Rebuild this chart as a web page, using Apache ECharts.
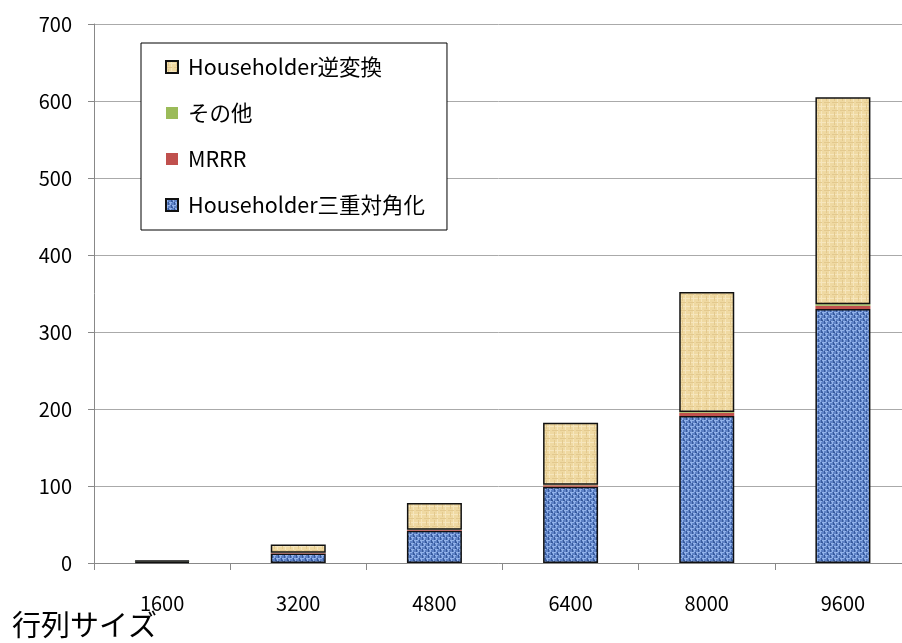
<!DOCTYPE html>
<html><head><meta charset="utf-8">
<script src="https://cdn.jsdelivr.net/npm/echarts@6/dist/echarts.min.js"></script>
<style>html,body{margin:0;padding:0;background:#fff}#c{width:902px;height:643px}</style>
</head><body><div id="c"></div>
<script>
const categories = ['1600','3200','4800','6400','8000','9600'];
const tridiag = [1.5, 12.5, 42, 99, 191, 330];
const mrrr = [0.2, 0.5, 1, 2, 4, 4];
const other = [0.1, 0.2, 0.3, 0.5, 1, 2];
const backtrans = [1.3, 10.8, 34.7, 80.5, 156, 269];
const yTicks = [0,100,200,300,400,500,600,700];

function blueTex(){
  const c=document.createElement('canvas');c.width=6;c.height=6;const g=c.getContext('2d');
  g.fillStyle='#5e82c6';g.fillRect(0,0,6,6);
  g.fillStyle='#93b3ea';g.fillRect(0,0,4,1);g.fillRect(3,3,3,1);g.fillRect(1,1,1,2);g.fillRect(4,4,1,2);
  g.fillStyle='#36599c';g.fillRect(5,0,1,3);g.fillRect(2,3,1,3);g.fillRect(0,2,1,1);
  return c;
}
function beigeTex(){
  const c=document.createElement('canvas');c.width=8;c.height=8;const g=c.getContext('2d');
  g.fillStyle='#efd9a2';g.fillRect(0,0,8,8);
  g.fillStyle='#f6e6bd';g.fillRect(0,2,8,1);g.fillRect(5,0,1,8);
  g.fillStyle='#e3c98e';g.fillRect(0,6,6,1);g.fillRect(2,0,1,5);
  return c;
}
const font = '"Noto Sans CJK JP", "Noto Sans", sans-serif';
const chart = echarts.init(document.getElementById('c'), null, {renderer:'canvas'});
chart.setOption({
  animation:false,
  textStyle:{fontFamily:font},
  title:{text:'行列サイズ', left:12, top:610, padding:0, textStyle:{fontSize:29, fontWeight:'normal', color:'#000', fontFamily:font}},
  grid:{left:94, top:24, width:817, bottom:80, outerBoundsMode:'none'},
  legend:{
    orient:'vertical', left:141, top:43,
    data:['Householder逆変換','その他','MRRR','Householder三重対角化'],
    backgroundColor:'#fff', borderColor:'#000', borderWidth:1,
    padding:[12,22,13,24], itemGap:22, itemWidth:12, itemHeight:12,
    textStyle:{fontSize:21.5, lineHeight:24, color:'#000', fontFamily:font, padding:[0,0,0,5]},
    icon:'rect'
  },
  xAxis:{
    type:'category', data:categories,
    axisLine:{lineStyle:{color:'#888', width:1}},
    axisTick:{show:true, length:7, lineStyle:{color:'#888'}},
    axisLabel:{fontSize:20, color:'#000', margin:30, fontFamily:font}
  },
  yAxis:{
    type:'value', min:0, max:700, interval:100,
    axisLine:{show:true, lineStyle:{color:'#888'}},
    axisTick:{show:true, length:6, lineStyle:{color:'#888'}},
    splitLine:{lineStyle:{color:'#aaa', width:1}},
    axisLabel:{fontSize:20, color:'#000', margin:22, fontFamily:font,
      formatter:function(v){return yTicks.indexOf(v)>=0?String(v):'';}}
  },
  series:[
    {name:'Householder三重対角化', type:'bar', stack:'t', data:tridiag, barWidth:55,
      itemStyle:{color:{image:blueTex(), repeat:'repeat'}, borderColor:'#111', borderWidth:1.5}},
    {name:'MRRR', type:'bar', stack:'t', data:mrrr, barWidth:55,
      itemStyle:{color:'#c0504d'}},
    {name:'その他', type:'bar', stack:'t', data:other, barWidth:55,
      itemStyle:{color:'#9bbb59'}},
    {name:'Householder逆変換', type:'bar', stack:'t', data:backtrans, barWidth:55,
      itemStyle:{color:{image:beigeTex(), repeat:'repeat'}, borderColor:'#111', borderWidth:1.5}}
  ]
});
</script></body></html>
